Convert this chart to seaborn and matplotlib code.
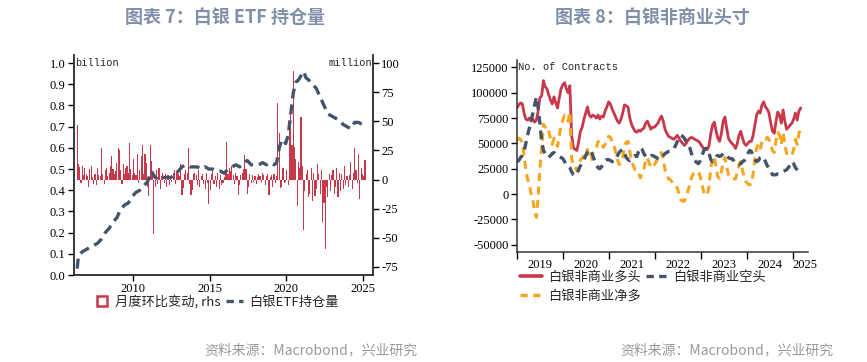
#!/usr/bin/env python3
import pandas as pd
import seaborn as sns
import matplotlib
matplotlib.use('Agg')
import matplotlib.pyplot as plt
from matplotlib.lines import Line2D

RED = '#C8374A'
NAVY = '#44546A'
ORANGE = '#F5A623'
TITLE_C = '#8090A8'
SRC_C = '#9A9A9A'
TICK_FONT = 'Liberation Serif'
MONO_FONT = 'Liberation Mono'
CJK = ['Noto Sans CJK SC', 'DejaVu Sans']

# --- chart 7: silver ETF holdings ---
# monthly change, million oz (rhs), May 2006 .. Feb 2025
etf_change = [
    47, 13, 11, -3, 12, 4, 10, 5,                      # 2006 (May-Dec)
    3, -6, 9, 12, 2, -4, 5, -5, 10, 4, 3, 27,          # 2007
    5, -4, 8, 10, 3, 6, 12, 20, 9, 5, 7, 14,           # 2008
    27, 25, 8, -4, 13, 5, 10, 12, 6, 31, 9, 4,         # 2009
    18, 6, 4, 22, -3, 8, 20, 30, 5, 22, 14, -6,        # 2010
    -14, 30, 16, 5, -47, -6, 8, -4, 10, -8, 3, 6,      # 2011
    -3, 5, -6, 4, -5, 3, -2, 6, 8, -4, 7, 5,           # 2012
    3, 13, -13, -7, 5, 8, 6, 27, -4, -13, -9, 5,       # 2013
    6, 4, -5, 8, -6, 3, 5, -4, -8, 6, -3, -21,         # 2014
    -9, 5, 7, -4, 3, -6, 6, -8, 4, -5, -3, 2,          # 2015
    8, 32, 5, 10, 7, 12, 4, -4, 6, 3, -13, -5,         # 2016
    4, 6, 9, 21, 9, -12, -6, 5, -3, 4, -2, 3,          # 2017
    -4, 2, 5, 3, -2, 6, 4, -5, 3, 5, -13, 2,           # 2018
    4, -6, 5, -3, 3, 66, 40, -7, -6, 10, -3, -2,       # 2019
    8, -5, 44, 62, 30, 93, 28, 18, -23, 15, 10, 54,    # 2020
    12, -43, -10, 5, 8, -15, -12, 10, -18, 6, -14, -8, # 2021
    13, 5, -12, 8, -36, -20, -60, -6, -15, 5, -10, 4,  # 2022
    8, -12, -6, 10, -15, 6, -10, 5, -8, 12, -5, 3,     # 2023
    -6, 4, 15, -8, 6, 27, 8, -3, 22, -17, 10, 5,       # 2024
    3, 17,                                             # 2025
]

# holdings, billion oz (lhs)
hold_months = [
    '2006-05', '2006-06', '2006-09', '2006-12',
    '2007-03', '2007-06', '2007-09', '2007-12',
    '2008-03', '2008-06', '2008-09', '2008-12',
    '2009-03', '2009-06', '2009-09', '2009-12',
    '2010-03', '2010-06', '2010-09', '2010-12',
    '2011-03', '2011-06', '2011-09', '2011-12',
    '2012-03', '2012-06', '2012-09', '2012-12',
    '2013-03', '2013-06', '2013-09', '2013-12',
    '2014-03', '2014-06', '2014-09', '2014-12',
    '2015-03', '2015-06', '2015-09', '2015-12',
    '2016-03', '2016-06', '2016-09', '2016-12',
    '2017-03', '2017-06', '2017-09', '2017-12',
    '2018-03', '2018-06', '2018-09', '2018-12',
    '2019-03', '2019-05', '2019-07', '2019-09', '2019-12',
    '2020-02', '2020-04', '2020-06', '2020-08', '2020-10', '2020-12',
    '2021-02', '2021-04', '2021-06', '2021-09', '2021-12',
    '2022-03', '2022-06', '2022-09', '2022-12',
    '2023-03', '2023-06', '2023-09', '2023-12',
    '2024-03', '2024-06', '2024-09', '2024-12',
    '2025-02',
]
etf_hold = [
    0.03, 0.09, 0.11, 0.12,
    0.13, 0.14, 0.15, 0.17,
    0.20, 0.22, 0.25, 0.27,
    0.31, 0.33, 0.34, 0.37,
    0.39, 0.40, 0.42, 0.44,
    0.49, 0.46, 0.45, 0.46,
    0.46, 0.46, 0.47, 0.49,
    0.51, 0.52, 0.51, 0.51,
    0.51, 0.50, 0.51, 0.50,
    0.50, 0.49, 0.49, 0.48,
    0.50, 0.51, 0.52, 0.51,
    0.53, 0.54, 0.52, 0.52,
    0.52, 0.53, 0.52, 0.53,
    0.52, 0.53, 0.60, 0.64, 0.62,
    0.66, 0.76, 0.86, 0.91, 0.92, 0.94,
    0.96, 0.93, 0.92, 0.90, 0.88,
    0.84, 0.80, 0.76, 0.75,
    0.74, 0.73, 0.71, 0.70,
    0.69, 0.72, 0.72, 0.71,
    0.72,
]

# --- chart 8: non-commercial positions, thousand contracts, biweekly from Jan 2019 ---
cot_long = [
    85, 88, 90, 89, 80, 74, 73, 75, 72, 74, 71, 73, 82, 95, 97, 112, 106, 104, 98, 93, 89, 96, 90, 85, 95, 104,
    108, 110, 104, 100, 107, 58, 46, 44, 43, 52, 62, 66, 74, 80, 86, 78, 76, 78, 77, 75, 78, 74, 77, 76, 82, 86,
    91, 89, 84, 80, 76, 72, 70, 74, 80, 88, 87, 86, 75, 69, 65, 62, 61, 63, 62, 64, 65, 70, 72, 68, 64, 66,
    66, 68, 70, 74, 77, 72, 64, 60, 57, 56, 55, 54, 56, 58, 55, 52, 50, 48, 50, 53, 55, 56, 55, 54, 53, 52,
    50, 47, 45, 44, 44, 48, 60, 68, 71, 62, 55, 52, 60, 72, 76, 65, 55, 52, 50, 48, 45, 50, 58, 62, 55, 50,
    48, 50, 52, 52, 58, 68, 78, 82, 80, 88, 91, 86, 84, 80, 70, 62, 60, 72, 81, 78, 70, 83, 72, 64, 66, 68,
    70, 74, 80, 73, 82, 85,
]
cot_short = [
    32, 33, 36, 38, 42, 50, 58, 65, 72, 80, 88, 96, 85, 70, 52, 43, 40, 37, 36, 38, 40, 41, 39, 38, 37, 36,
    35, 32, 29, 28, 26, 22, 19, 18, 20, 24, 28, 31, 34, 38, 42, 44, 42, 38, 33, 29, 26, 25, 27, 30, 33, 34,
    34, 33, 32, 32, 35, 38, 41, 43, 44, 40, 36, 34, 33, 35, 37, 38, 37, 42, 46, 44, 40, 37, 36, 37, 38, 38,
    37, 36, 35, 34, 36, 38, 40, 41, 42, 42, 43, 45, 48, 52, 56, 58, 57, 55, 52, 50, 46, 40, 35, 33, 31, 30,
    33, 38, 43, 45, 45, 40, 34, 32, 34, 37, 38, 37, 38, 40, 40, 38, 36, 35, 35, 33, 30, 29, 29, 30, 32, 33,
    36, 40, 43, 42, 38, 34, 32, 33, 36, 37, 36, 32, 28, 26, 22, 19, 19, 19, 20, 20, 21, 22, 23, 24, 26, 29,
    32, 30, 26, 24, 22, 21,
]
cot_net = [
    53, 55, 54, 51, 38, 24, 15, 10, 0, -6, -17, -23, -3, 25, 45, 69, 66, 67, 62, 55, 49, 55, 51, 47, 58, 68,
    73, 78, 75, 72, 81, 36, 27, 26, 23, 28, 34, 35, 40, 42, 44, 34, 34, 40, 44, 46, 52, 49, 50, 46, 49, 52,
    57, 56, 52, 48, 41, 34, 29, 31, 36, 48, 51, 52, 42, 34, 28, 24, 24, 21, 16, 20, 25, 33, 36, 31, 26, 28,
    29, 32, 35, 40, 41, 34, 24, 19, 15, 14, 12, 9, 8, 6, -1, -6, -7, -7, -2, 3, 9, 16, 20, 21, 22, 22,
    17, 9, 2, -1, -1, 8, 26, 36, 37, 25, 17, 15, 22, 32, 36, 27, 19, 17, 15, 15, 15, 21, 29, 32, 23, 17,
    12, 10, 9, 10, 20, 34, 46, 49, 44, 51, 55, 54, 56, 54, 48, 43, 41, 53, 61, 58, 49, 61, 49, 40, 40, 39,
    38, 44, 54, 49, 60, 64,
]


def style_ticks(ax):
    ax.tick_params(which='both', direction='out', labelsize=9, colors='black', width=1)
    for s in ax.spines.values():
        s.set_color('#333333')
        s.set_linewidth(1.1)


def main():
    sns.set_theme(style='ticks')
    # tick labels in a Times-like serif; CJK texts name their own family
    plt.rcParams['font.family'] = [TICK_FONT, 'DejaVu Serif']
    plt.rcParams['axes.unicode_minus'] = False

    fig = plt.figure(figsize=(8.67, 3.62), dpi=100)

    # ---------------- left: ETF holdings ----------------
    ax1 = fig.add_axes([74 / 867, 1 - 275 / 362, 299 / 867, 220 / 362])
    ax1r = ax1.twinx()
    ax1.set_zorder(ax1r.get_zorder() + 1)
    ax1.patch.set_visible(False)

    chg_df = pd.DataFrame({
        'date': pd.date_range('2006-05-01', periods=len(etf_change), freq='MS') + pd.Timedelta(days=14),
        'chg': etf_change,
    })
    hold_df = pd.DataFrame({'date': pd.to_datetime(hold_months) + pd.Timedelta(days=14), 'hold': etf_hold})

    ax1r.bar(chg_df['date'], chg_df['chg'], width=27, color=RED, linewidth=0)
    sns.lineplot(data=hold_df, x='date', y='hold', ax=ax1, color=NAVY, linewidth=2.4,
                 linestyle=(0, (3, 1.8)))

    ax1.set_xlim(pd.Timestamp('2006-03-01'), pd.Timestamp('2025-08-25'))
    ax1.set_ylim(0, 1.038)
    ax1r.set_ylim(-81.9, 106.9)
    ax1.set_yticks([i / 10 for i in range(11)], [f'{i / 10:.1f}' for i in range(11)])
    ax1r.set_yticks(range(-75, 101, 25), [str(v) for v in range(-75, 101, 25)])
    yrs = [2010, 2015, 2020, 2025]
    ax1.set_xticks([pd.Timestamp(f'{y}-01-01') for y in yrs], [str(y) for y in yrs])
    ax1.set_xlabel('')
    ax1.set_ylabel('')
    for a in (ax1, ax1r):
        a.spines['top'].set_visible(False)
        style_ticks(a)
    ax1.tick_params(axis='y', length=4, pad=2)
    ax1r.tick_params(axis='y', length=4, pad=2)
    ax1.tick_params(axis='x', length=4, pad=2)

    ax1.text(0.003, 0.964, 'billion', transform=ax1.transAxes, ha='left', va='center',
             family=MONO_FONT, fontsize=7.5)
    ax1.text(0.997, 0.964, 'million', transform=ax1.transAxes, ha='right', va='center',
             family=MONO_FONT, fontsize=7.5)

    h1 = [
        Line2D([], [], marker='s', markersize=7, markerfacecolor='white', markeredgecolor=RED,
               markeredgewidth=1.8, linestyle='none'),
        Line2D([], [], color=NAVY, linewidth=2.4, linestyle=(0, (2.2, 1.6))),
    ]
    fig.legend(h1, ['月度环比变动, rhs', '白银ETF持仓量'], loc='center left',
               bbox_to_anchor=(93 / 867, 1 - 302 / 362), ncol=2, frameon=False,
               prop={'family': CJK, 'size': 9.5}, handlelength=1.3, handletextpad=0.4,
               columnspacing=0.4, borderaxespad=0, borderpad=0)

    # ---------------- right: non-commercial positions ----------------
    ax2 = fig.add_axes([517 / 867, 1 - 252 / 362, 291 / 867, 192 / 362])
    cot_df = pd.DataFrame({
        'date': pd.date_range('2019-01-01', periods=len(cot_long), freq='14D'),
        'long': [v * 1000 for v in cot_long],
        'short': [v * 1000 for v in cot_short],
        'net': [v * 1000 for v in cot_net],
    })
    sns.lineplot(data=cot_df, x='date', y='long', ax=ax2, color=RED, linewidth=2.0)
    sns.lineplot(data=cot_df, x='date', y='net', ax=ax2, color=ORANGE, linewidth=2.2,
                 linestyle=(0, (2.6, 1.8)))
    sns.lineplot(data=cot_df, x='date', y='short', ax=ax2, color=NAVY, linewidth=2.4,
                 linestyle=(0, (2.6, 1.8)))

    ax2.set_xlim(pd.Timestamp('2019-01-01'), pd.Timestamp('2025-05-01'))
    ax2.set_ylim(-57300, 132400)
    ax2.set_yticks(range(-50000, 125001, 25000), [str(v) for v in range(-50000, 125001, 25000)])
    ax2.set_xticks([pd.Timestamp(f'{y}-01-01') for y in range(2019, 2026)], [''] * 7)
    lab_pos = [pd.Timestamp(f'{y}-07-01') for y in range(2019, 2025)] + [pd.Timestamp('2025-04-10')]
    ax2.set_xticks(lab_pos, [str(y) for y in range(2019, 2026)], minor=True)
    ax2.set_xlabel('')
    ax2.set_ylabel('')
    ax2.spines['top'].set_visible(False)
    ax2.spines['right'].set_visible(False)
    style_ticks(ax2)
    ax2.tick_params(axis='y', length=4, pad=2)
    ax2.tick_params(axis='x', which='major', length=5)
    ax2.tick_params(axis='x', which='minor', length=0, pad=5)

    ax2.text(0.003, 0.965, 'No. of Contracts', transform=ax2.transAxes, ha='left', va='center',
             family=MONO_FONT, fontsize=7.5)

    h2 = [
        Line2D([], [], color=RED, linewidth=2.6),
        Line2D([], [], color=ORANGE, linewidth=2.4, linestyle=(0, (2.2, 1.6))),
        Line2D([], [], color=NAVY, linewidth=2.4, linestyle=(0, (2.2, 1.6))),
    ]
    fig.legend(h2, ['白银非商业多头', '白银非商业净多', '白银非商业空头'], loc='upper left',
               bbox_to_anchor=(520 / 867, 1 - 271 / 362), ncol=2, frameon=False,
               prop={'family': CJK, 'size': 9.5}, handlelength=1.7, handletextpad=0.4,
               columnspacing=0.4, labelspacing=0.45, borderaxespad=0, borderpad=0)

    # ---------------- titles and sources ----------------
    fig.text(225 / 867, 1 - 17 / 362, '图表 7：白银 ETF 持仓量', ha='center', va='center',
             family=CJK, fontsize=13, fontweight='bold', color=TITLE_C)
    fig.text(652 / 867, 1 - 17 / 362, '图表 8：白银非商业头寸', ha='center', va='center',
             family=CJK, fontsize=13, fontweight='bold', color=TITLE_C)
    fig.text(417 / 867, 1 - 350 / 362, '资料来源：Macrobond，兴业研究', ha='right', va='center',
             family=CJK, fontsize=10, color=SRC_C)
    fig.text(833 / 867, 1 - 350 / 362, '资料来源：Macrobond，兴业研究', ha='right', va='center',
             family=CJK, fontsize=10, color=SRC_C)

    fig.savefig('out.png', dpi=100)
    plt.close(fig)


if __name__ == '__main__':
    main()
